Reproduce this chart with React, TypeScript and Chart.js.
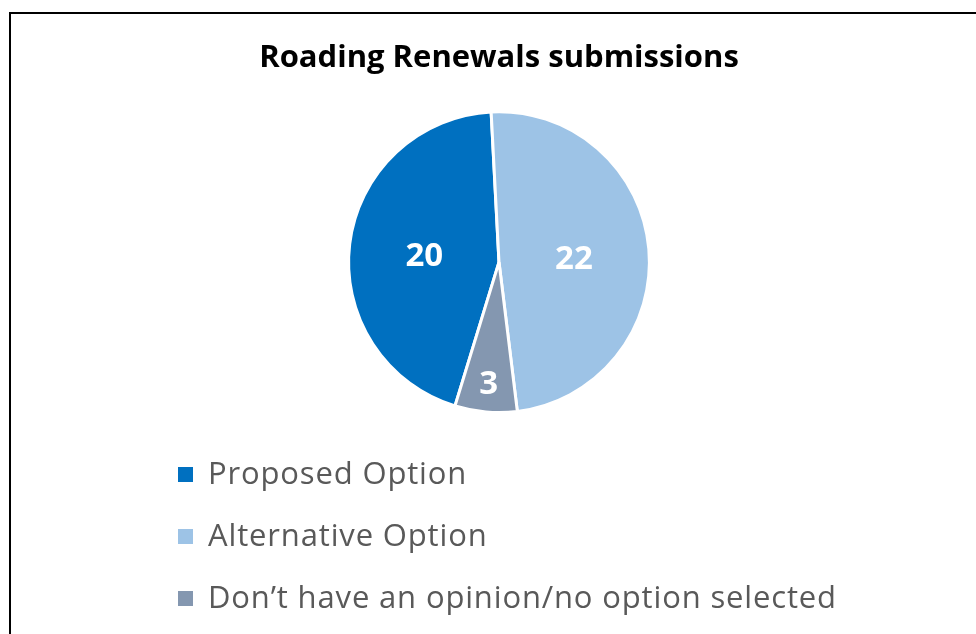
import React, { useEffect, useRef } from "react";
import { Chart, registerables } from "chart.js";
Chart.register(...registerables);

const TITLE = "Roading Renewals submissions";
const categories = [
  "Proposed Option",
  "Alternative Option",
  "Don’t have an opinion/no option selected",
];
const values = [20, 22, 3];
const colors = ["#0070C0", "#9DC3E6", "#8497B0"];

const FONT = "'Open Sans', Lato, sans-serif";

const labelPlugin = {
  id: "sliceLabels",
  afterDatasetsDraw(chart: any) {
    const ctx = chart.ctx;
    const meta = chart.getDatasetMeta(0);
    const data = chart.data.datasets[0].data;
    ctx.save();
    ctx.fillStyle = "#ffffff";
    ctx.font = `bold 33px ${FONT}`;
    ctx.textAlign = "center";
    ctx.textBaseline = "middle";
    meta.data.forEach((arc: any, i: number) => {
      const p = arc.getProps(["x", "y", "startAngle", "endAngle", "outerRadius"], true);
      const mid = (p.startAngle + p.endAngle) / 2;
      const frac = p.endAngle - p.startAngle < 0.6 ? 0.79 : 0.5;
      ctx.fillText(
        String(data[i]),
        p.x + Math.cos(mid) * p.outerRadius * frac,
        p.y + Math.sin(mid) * p.outerRadius * frac + 4
      );
    });
    ctx.restore();
  },
};

export default function App() {
  const ref = useRef<HTMLCanvasElement>(null);
  useEffect(() => {
    if (!ref.current) return;
    const chart = new Chart(ref.current, {
      type: "pie",
      data: {
        labels: categories,
        datasets: [
          {
            data: values,
            backgroundColor: colors,
            borderColor: "#ffffff",
            borderWidth: 3,
          },
        ],
      },
      options: {
        animation: false,
        responsive: false,
        rotation: 197,
        layout: { padding: { top: 0, bottom: 220, left: 0, right: 0 } },
        plugins: {
          legend: { display: false },
          tooltip: { enabled: false },
          title: {
            display: true,
            text: TITLE,
            color: "#000000",
            font: { family: FONT, size: 31, weight: "bold" },
            padding: { top: 40, bottom: 33 },
          },
        },
      },
      plugins: [labelPlugin],
    });
    return () => chart.destroy();
  }, []);

  return (
    <div
      style={{
        position: "fixed",
        left: 0,
        top: 0,
        width: 976,
        height: 634,
        overflow: "hidden",
        background: "#ffffff",
      }}
    >
      <div
        style={{
          position: "absolute",
          left: 9,
          top: 12,
          width: 1100,
          height: 800,
          border: "2px solid #000000",
          boxSizing: "border-box",
        }}
      />
      <canvas
        ref={ref}
        width={998}
        height={634}
        style={{ position: "absolute", left: 0, top: 0, width: 998, height: 634 }}
      />
      {categories.map((c, i) => (
        <div
          key={c}
          style={{
            position: "absolute",
            left: 178,
            top: 474 + i * 62 - 25,
            height: 50,
            display: "flex",
            alignItems: "center",
            whiteSpace: "nowrap",
            fontFamily: FONT,
            fontSize: 31,
            letterSpacing: 0.85,
            color: "#595959",
          }}
        >
          <span
            style={{
              display: "inline-block",
              width: 15,
              height: 15,
              background: colors[i],
              marginRight: 15,
            }}
          />
          <span style={{ position: "relative", top: -2 }}>{c}</span>
        </div>
      ))}
    </div>
  );
}
